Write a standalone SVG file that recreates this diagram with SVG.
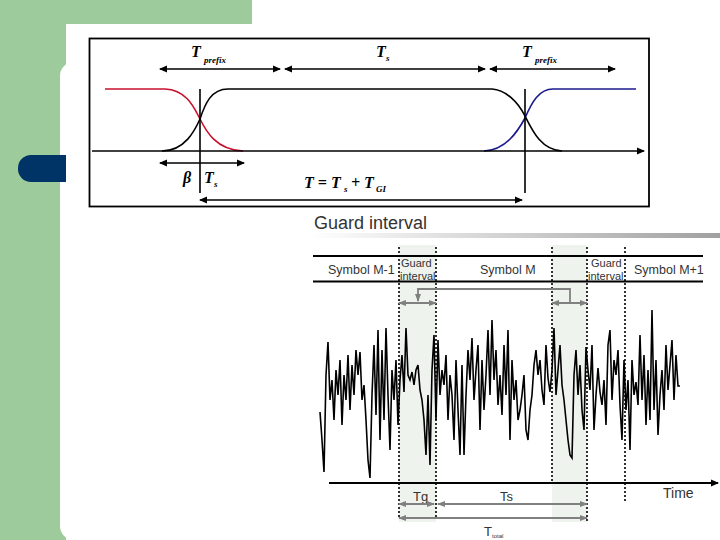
<svg xmlns="http://www.w3.org/2000/svg" width="720" height="540" viewBox="0 0 720 540">
<defs>
<style>
.ln{stroke:#000;stroke-width:1.6;fill:none}
.gl{stroke:#808080;stroke-width:1.8;fill:none}
.dot{stroke:#000;stroke-width:1.6;stroke-dasharray:2,2;fill:none}
.ser{font-family:"Liberation Serif","DejaVu Serif",serif;font-weight:bold;font-style:italic;fill:#000}
.san{font-family:"Liberation Sans",Arial,sans-serif;fill:#333}
.shade{fill:#eef3ee}
</style>
<marker id="ah" markerWidth="8" markerHeight="8" refX="7" refY="4" orient="auto-start-reverse" markerUnits="userSpaceOnUse">
<path d="M0,0.5 L8,4 L0,7.5 Z" fill="#000"/>
</marker>
<marker id="gh" markerWidth="8" markerHeight="8" refX="7" refY="4" orient="auto-start-reverse" markerUnits="userSpaceOnUse">
<path d="M0,1 L8,4 L0,7 Z" fill="#808080"/>
</marker>
<linearGradient id="bar" x1="0" y1="0" x2="1" y2="0">
<stop offset="0" stop-color="#ffffff"/>
<stop offset="1" stop-color="#a0a0a0"/>
</linearGradient>
</defs>

<g id="background">
<rect x="0" y="0" width="720" height="540" fill="#ffffff"/>
<rect x="0" y="0" width="252" height="24" fill="#9dcb9b"/>
<rect x="0" y="0" width="66" height="540" fill="#9dcb9b"/>
<rect x="60" y="62" width="200" height="478" rx="14" fill="#ffffff"/>
<rect x="66" y="24" width="200" height="60" fill="#ffffff"/>
<rect x="18" y="155" width="60" height="27" rx="13" fill="#003366"/>
<rect x="66" y="150" width="20" height="40" fill="#ffffff"/>
</g>

<g id="top-figure">
<rect x="89.5" y="38.5" width="559.5" height="168" fill="none" stroke="#000" stroke-width="1.8"/>
<path d="M105,89 H165 C188,90 195,110 200,119 C206,131 216,150 243,151" fill="none" stroke="#c8102e" stroke-width="1.6"/>
<path d="M162,151 C185,151 195,130 200,119 C205,104 211,89 228,89 H492 C506,90 518,102 525,116 C532,130 541,150 562,151" class="ln"/>
<path d="M484,151 C506,150 518,131 525,118 C532,102 539,89 553,89 H636" fill="none" stroke="#1a1a8c" stroke-width="1.6"/>
<text x="191" y="57" class="ser" font-size="16">T</text>
<text x="204" y="63" class="ser" font-size="9">prefix</text>
<text x="376" y="57" class="ser" font-size="16">T</text>
<text x="386" y="61" class="ser" font-size="9">s</text>
<text x="522" y="57" class="ser" font-size="16">T</text>
<text x="535" y="63" class="ser" font-size="9">prefix</text>
<text x="183" y="183" class="ser" font-size="16">β</text>
<text x="204" y="183" class="ser" font-size="16">T</text>
<text x="214" y="187" class="ser" font-size="9">s</text>
<text x="304" y="188" class="ser" font-size="16">T = T</text>
<text x="344" y="192" class="ser" font-size="9">s</text>
<text x="351" y="188" class="ser" font-size="16">+ T</text>
<text x="376" y="192" class="ser" font-size="9">GI</text>
</g>

<g id="top-connectors">
<line x1="160" y1="69" x2="280" y2="69" class="ln" marker-start="url(#ah)" marker-end="url(#ah)"/>
<line x1="285" y1="69" x2="485" y2="69" class="ln" marker-start="url(#ah)" marker-end="url(#ah)"/>
<line x1="490" y1="69" x2="615" y2="69" class="ln" marker-start="url(#ah)" marker-end="url(#ah)"/>
<line x1="92" y1="151" x2="644" y2="151" class="ln" marker-end="url(#ah)"/>
<line x1="160" y1="163" x2="244" y2="163" class="ln" marker-start="url(#ah)" marker-end="url(#ah)"/>
<line x1="200" y1="200" x2="522" y2="200" class="ln" stroke-width="2" marker-start="url(#ah)" marker-end="url(#ah)"/>
<line x1="200" y1="89" x2="200" y2="193" class="ln"/>
<line x1="525" y1="89" x2="525" y2="193" class="ln"/>
</g>

<g id="guard-title">
<text x="314" y="229" class="san" font-size="18">Guard interval</text>
<rect x="310" y="233" width="410" height="5" fill="url(#bar)"/>
</g>

<g id="lower-figure">
<rect x="399" y="245" width="37" height="277" class="shade"/>
<rect x="552" y="245" width="35" height="277" class="shade"/>
<line x1="313" y1="256" x2="703" y2="256" stroke="#000" stroke-width="2"/>
<line x1="313" y1="281.5" x2="703" y2="281.5" stroke="#000" stroke-width="2"/>
<line x1="399" y1="247" x2="399" y2="517" class="dot"/>
<line x1="436" y1="247" x2="436" y2="517" class="dot" stroke-width="2"/>
<line x1="552" y1="247" x2="552" y2="483" class="dot"/>
<line x1="587" y1="247" x2="587" y2="523" class="dot" stroke-width="2"/>
<line x1="625" y1="247" x2="625" y2="503" class="dot" stroke-width="2"/>
<text x="328" y="274" class="san" font-size="12.5">Symbol M-1</text>
<text x="401" y="267" class="san" font-size="11">Guard</text>
<text x="400" y="280" class="san" font-size="11">interval</text>
<text x="480" y="274" class="san" font-size="12.5">Symbol M</text>
<text x="591" y="267" class="san" font-size="11">Guard</text>
<text x="588" y="280" class="san" font-size="11">interval</text>
<text x="634" y="274" class="san" font-size="12.5">Symbol M+1</text>
<polyline fill="none" stroke="#000" stroke-width="1.6" stroke-linejoin="miter" points="320,412 322,440 324,472 326,375 328,342 330,400 332,380 334,420 336,370 338,395 340,360 342,425 344,375 346,400 348,355 350,410 352,365 354,395 356,350 358,375 360,352 362,400 364,385 366,420 368,460 370,478 372,395 374,345 376,415 378,330 380,440 382,350 384,420 386,328 388,395 390,450 392,370 394,400 396,360 398,425 400,380 402,355 404,392 406,328 408,375 410,380 412,372 414,385 416,370 418,365 420,390 422,400 424,420 426,455 428,395 430,465 432,370 434,335 436,420 438,340 440,395 442,370 444,385 446,355 448,420 450,375 452,395 454,440 456,360 458,410 460,455 462,365 464,455 466,395 468,350 470,380 472,338 474,400 476,370 478,345 480,430 482,360 484,410 486,375 488,330 490,395 492,320 494,380 496,350 498,405 500,375 502,415 504,345 506,395 508,330 510,440 512,360 514,400 516,380 518,420 520,410 522,395 524,375 526,430 528,440 530,410 532,395 534,365 536,350 538,375 540,360 542,390 544,405 546,345 548,378 550,392 552,370 554,328 556,395 558,370 560,345 562,385 564,400 566,420 568,440 570,455 572,458 574,375 576,350 578,395 580,365 582,410 584,430 586,347 588,370 590,390 592,345 594,430 596,395 598,368 600,392 602,405 604,380 606,425 608,345 610,330 612,400 614,360 616,375 618,350 620,405 622,440 624,360 626,410 628,380 630,450 632,360 634,395 636,382 638,405 640,335 642,400 644,355 646,425 648,370 650,420 652,310 654,410 656,360 658,435 660,395 662,370 664,410 666,345 668,390 670,365 672,340 674,400 676,355 678,386 680,386"/>
<text x="663" y="498" class="san" font-size="14">Time</text>
<text x="413" y="501" class="san" font-size="13">Tg</text>
<text x="500" y="501" class="san" font-size="13">Ts</text>
<text x="484" y="536" class="san" font-size="13">T</text>
<text x="492" y="538" class="san" font-size="6">total</text>
</g>

<g id="lower-connectors">
<polyline points="418,301 418,289 570,289 570,303" class="gl" stroke-width="1.5" marker-start="url(#gh)"/>
<line x1="399" y1="303" x2="436" y2="303" class="gl" marker-start="url(#gh)" marker-end="url(#gh)"/>
<line x1="552" y1="303" x2="587" y2="303" class="gl" marker-start="url(#gh)" marker-end="url(#gh)"/>
<line x1="329" y1="483" x2="718" y2="483" stroke="#000" stroke-width="2" marker-end="url(#ah)"/>
<line x1="399" y1="504" x2="434" y2="504" class="gl" marker-start="url(#gh)" marker-end="url(#gh)"/>
<line x1="438" y1="504" x2="587" y2="504" class="gl" marker-start="url(#gh)" marker-end="url(#gh)"/>
<line x1="399" y1="518" x2="587" y2="518" class="gl" marker-start="url(#gh)" marker-end="url(#gh)"/>
</g>
</svg>
